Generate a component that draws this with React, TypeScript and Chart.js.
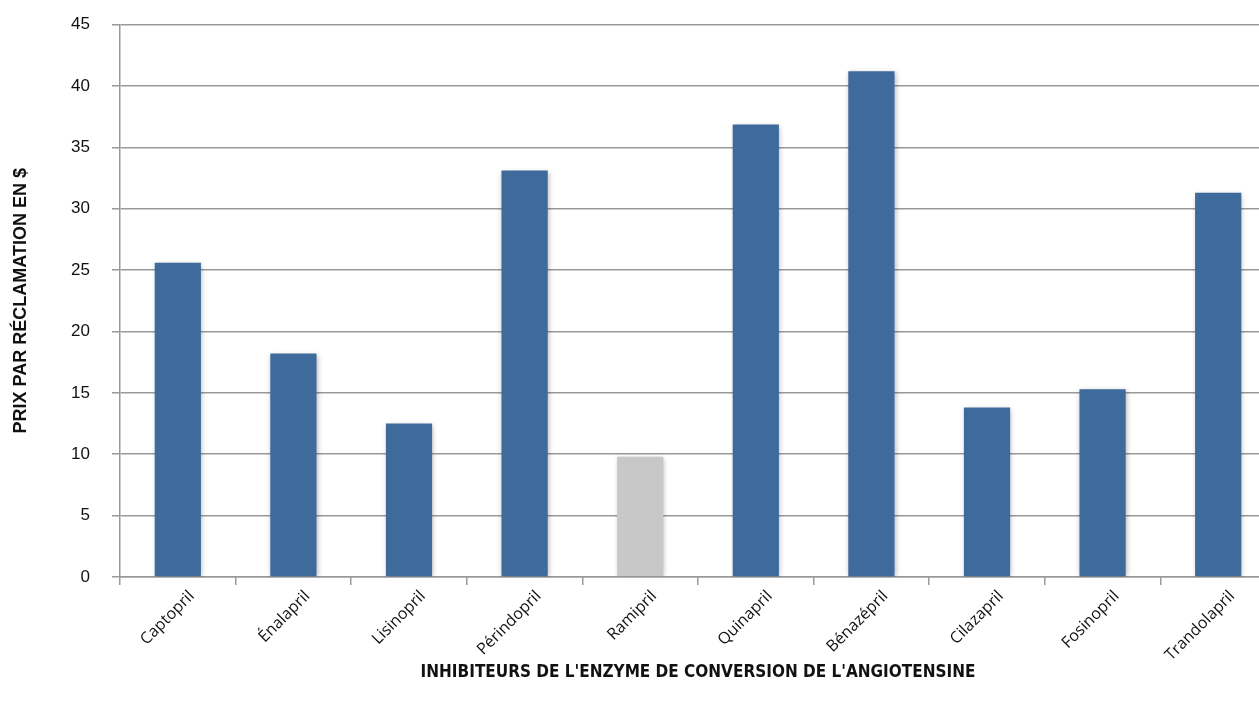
import React, { useEffect, useRef } from "react";
import { Chart, registerables } from "chart.js";

Chart.register(...registerables);

const categories = [
  "Captopril",
  "Énalapril",
  "Lisinopril",
  "Périndopril",
  "Ramipril",
  "Quinapril",
  "Bénazépril",
  "Cilazapril",
  "Fosinopril",
  "Trandolapril",
];
const prices = [25.6, 18.2, 12.5, 33.1, 9.8, 36.85, 41.2, 13.8, 15.3, 31.3];
const highlightIndex = 4;
const yTitle = "PRIX PAR RÉCLAMATION EN $";
const xTitle = "INHIBITEURS DE L'ENZYME DE CONVERSION DE L'ANGIOTENSINE";

const BLUE = "#3E6A9C";
const GREY_BAR = "#C8C8C8";
const GRID = "#999999";

const shadowPlugin = {
  id: "barShadow",
  beforeDatasetsDraw(chart: any) {
    const ctx = chart.ctx;
    ctx.save();
    ctx.shadowColor = "rgba(0,0,0,0.28)";
    ctx.shadowBlur = 5;
    ctx.shadowOffsetX = 1;
    ctx.shadowOffsetY = 1;
  },
  afterDatasetsDraw(chart: any) {
    chart.ctx.restore();
  },
};

export default function App() {
  const ref = useRef<HTMLCanvasElement | null>(null);

  useEffect(() => {
    const canvas = ref.current;
    if (!canvas) return;
    const chart = new Chart(canvas, {
      type: "bar",
      data: {
        labels: categories,
        datasets: [
          {
            data: prices,
            backgroundColor: prices.map((_, i) => (i === highlightIndex ? GREY_BAR : BLUE)),
            borderWidth: 0,
            categoryPercentage: 1,
            barPercentage: 0.4,
          },
        ],
      },
      plugins: [shadowPlugin],
      options: {
        animation: false,
        responsive: false,
        devicePixelRatio: 1,
        events: [],
        layout: { padding: { left: 4, top: 24.5, right: 0, bottom: 0 } },
        plugins: {
          legend: { display: false },
          tooltip: { enabled: false },
          title: { display: false },
        },
        scales: {
          x: {
            offset: true,
            grid: {
              offset: true,
              drawOnChartArea: false,
              drawTicks: true,
              tickLength: 8,
              color: GRID,
              lineWidth: 1.5,
            },
            border: { color: GRID, width: 1.5 },
            ticks: {
              autoSkip: false,
              maxRotation: 45,
              minRotation: 45,
              padding: 2,
              labelOffset: 14,
              color: "#111",
              font: { family: "'Open Sans', sans-serif", size: 16 },
            },
            title: {
              display: true,
              text: xTitle,
              color: "#111",
              font: { family: "'Liberation Sans Narrow', 'DejaVu Sans Condensed', sans-serif", size: 17, weight: "bold" },
              padding: { top: 0, bottom: 24 },
            },
            afterFit(scale: any) {
              scale.height = 130;
              scale.paddingLeft = 0;
              scale.paddingRight = 0;
            },
          },
          y: {
            min: 0,
            max: 45,
            ticks: {
              stepSize: 5,
              padding: 22,
              color: "#111",
              font: { family: "'Liberation Sans', Arial, sans-serif", size: 17 },
            },
            grid: {
              color: GRID,
              lineWidth: 1.5,
              tickLength: 8,
              drawTicks: true,
            },
            border: { color: GRID, width: 1.5 },
            title: {
              display: true,
              text: yTitle,
              color: "#111",
              font: { family: "'Liberation Sans', Arial, sans-serif", size: 18, weight: "bold" },
              padding: { top: 6.5, bottom: 0 },
            },
            afterFit(scale: any) {
              scale.width = 116;
              scale.paddingTop = 0;
              scale.paddingBottom = 0;
            },
          },
        },
      },
    });
    return () => chart.destroy();
  }, []);

  return (
    <div
      style={{
        position: "fixed",
        left: 0,
        top: 0,
        width: "1259px",
        height: "707px",
        overflow: "hidden",
        background: "#fff",
      }}
    >
      <canvas ref={ref} width={1276} height={707} style={{ display: "block", width: "1276px", height: "707px" }} />
    </div>
  );
}
